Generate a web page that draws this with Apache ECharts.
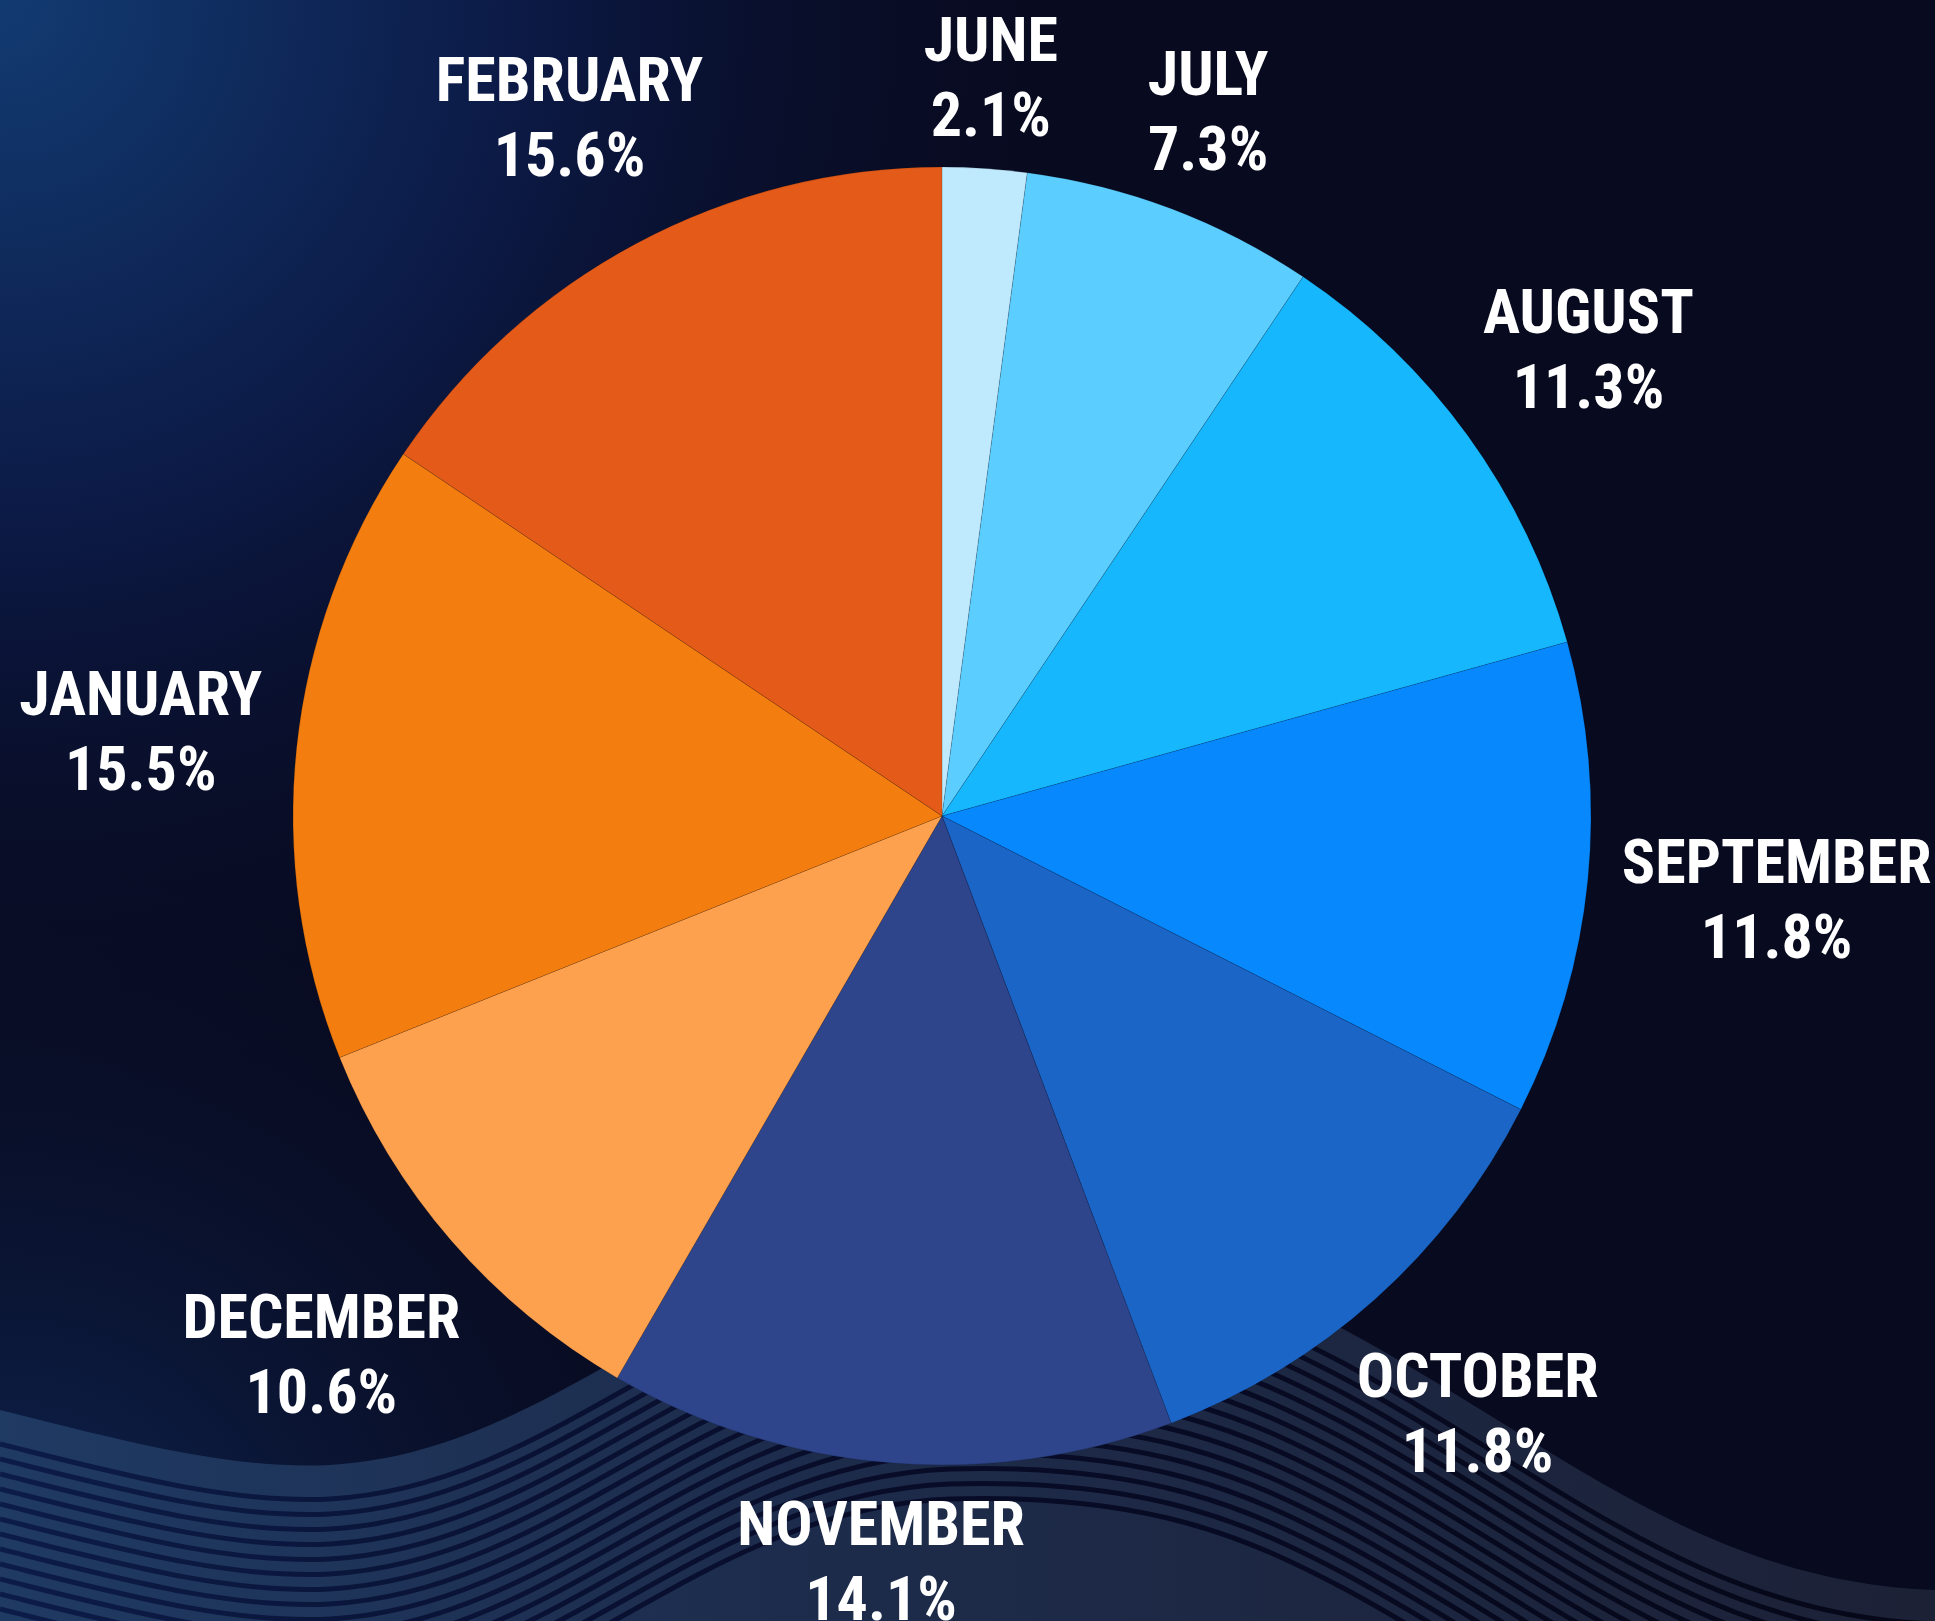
<!DOCTYPE html>
<html>
<head>
<meta charset="utf-8">
<script src="https://cdn.jsdelivr.net/npm/echarts@6/dist/echarts.min.js"></script>
<style>
  html, body { margin: 0; padding: 0; background: #080a1f; }
  #wrap { position: relative; width: 1935px; height: 1621px; overflow: hidden; }
  #bg { position: absolute; left: 0; top: 0; }
  #chart { position: absolute; left: 0; top: 0; width: 1935px; height: 1621px; }
</style>
</head>
<body>
<div id="wrap">
  <svg id="bg" width="1935" height="1621" viewBox="0 0 1935 1621">
    <defs>
      <radialGradient id="glowTL" cx="0" cy="0" r="1150" gradientUnits="userSpaceOnUse">
        <stop offset="0" stop-color="#123b72"/>
        <stop offset="0.45" stop-color="#0c1a46"/>
        <stop offset="1" stop-color="#080a1f" stop-opacity="0"/>
      </radialGradient>
      <radialGradient id="glowBL" cx="0" cy="1621" r="900" gradientUnits="userSpaceOnUse">
        <stop offset="0" stop-color="#0f2a5c" stop-opacity="0.9"/>
        <stop offset="1" stop-color="#080a1f" stop-opacity="0"/>
      </radialGradient>
      <linearGradient id="bandFill" x1="0" y1="0" x2="1935" y2="0" gradientUnits="userSpaceOnUse">
        <stop offset="0" stop-color="#1f3a63"/>
        <stop offset="0.4" stop-color="#1d2c4c"/>
        <stop offset="1" stop-color="#1c2136"/>
      </linearGradient>
      <linearGradient id="stripe" x1="0" y1="0" x2="1935" y2="0" gradientUnits="userSpaceOnUse">
        <stop offset="0" stop-color="#0c1c48"/>
        <stop offset="0.45" stop-color="#080c28"/>
        <stop offset="1" stop-color="#060818"/>
      </linearGradient>
      <path id="wave" d="M0,1410 C120,1440 230,1470 330,1465 C560,1452 700,1250 950,1240 C1150,1234 1250,1280 1345,1330 C1550,1440 1700,1582 1935,1590"/>
    </defs>
    <rect width="1935" height="1621" fill="#080a1f"/>
    <rect width="1935" height="1621" fill="url(#glowTL)"/>
    <rect width="1935" height="1621" fill="url(#glowBL)"/>
    <path d="M0,1410 C120,1440 230,1470 330,1465 C560,1452 700,1250 950,1240 C1150,1234 1250,1280 1345,1330 C1550,1440 1700,1582 1935,1590 L1935,1621 L0,1621 Z" fill="url(#bandFill)"/>
    <g id="stripes" fill="none" stroke="url(#stripe)" stroke-width="5"></g>
  </svg>
  <div id="chart"></div>
</div>
<script>
// stripes under the wave band (decoration only)
const stripeGroup = document.getElementById('stripes');
for (let k = 0; k < 16; k++) {
  const use = document.createElementNS('http://www.w3.org/2000/svg', 'use');
  use.setAttribute('href', '#wave');
  use.setAttribute('transform', `translate(0, ${34 + k * 15})`);
  stripeGroup.appendChild(use);
}

const months = ['JUNE', 'JULY', 'AUGUST', 'SEPTEMBER', 'OCTOBER', 'NOVEMBER', 'DECEMBER', 'JANUARY', 'FEBRUARY'];
const shares = [2.1, 7.3, 11.3, 11.8, 11.8, 14.1, 10.6, 15.5, 15.6];
const colors = ['#bfe9fd', '#5bcdfe', '#17b7fe', '#0788fd', '#1b65c7', '#2e448b', '#fea14e', '#f37e0f', '#e35a19'];

const CX = 942;
const CY = 816;
const R = 649;
const GAP = 30;
const total = shares.reduce((a, b) => a + b, 0);

const chart = echarts.init(document.getElementById('chart'), null, { renderer: 'canvas' });

chart.setOption({
  backgroundColor: 'transparent',
  animation: false,
  series: [
    {
      type: 'pie',
      center: [CX, CY],
      radius: [0, R],
      startAngle: 90,
      clockwise: true,
      avoidLabelOverlap: false,
      silent: true,
      itemStyle: { borderColor: 'rgba(0, 0, 0, 0.12)', borderWidth: 1 },
      label: {
        show: true,
        position: 'inside',
        color: '#ffffff',
        fontFamily: '"Roboto Condensed", "Liberation Sans Narrow", Roboto, sans-serif',
        fontWeight: 'bold',
        fontSize: 62,
        lineHeight: 75,
        align: 'center',
        overflow: 'none',
        formatter: (p) => `${p.name}\n${p.value.toFixed(1)}%`,
      },
      labelLine: { show: false },
      // put each label just outside the rim, along the slice's middle angle
      labelLayout: (params) => {
        const i = params.dataIndex;
        let before = 0;
        for (let j = 0; j < i; j++) before += shares[j];
        const mid = ((before + shares[i] / 2) / total) * Math.PI * 2;
        const ux = Math.sin(mid);
        const uy = -Math.cos(mid);
        const hw = params.labelRect.width / 2;
        const hh = params.labelRect.height / 2 - 18; // glyphs sit inside the line box
        const d = R + GAP + hw * Math.abs(ux) + hh * Math.abs(uy);
        return { x: CX + ux * d, y: CY + uy * d + 6, align: 'center', verticalAlign: 'middle' };
      },
      data: months.map((m, i) => ({ name: m, value: shares[i], itemStyle: { color: colors[i] } })),
    },
  ],
});
</script>
</body>
</html>
